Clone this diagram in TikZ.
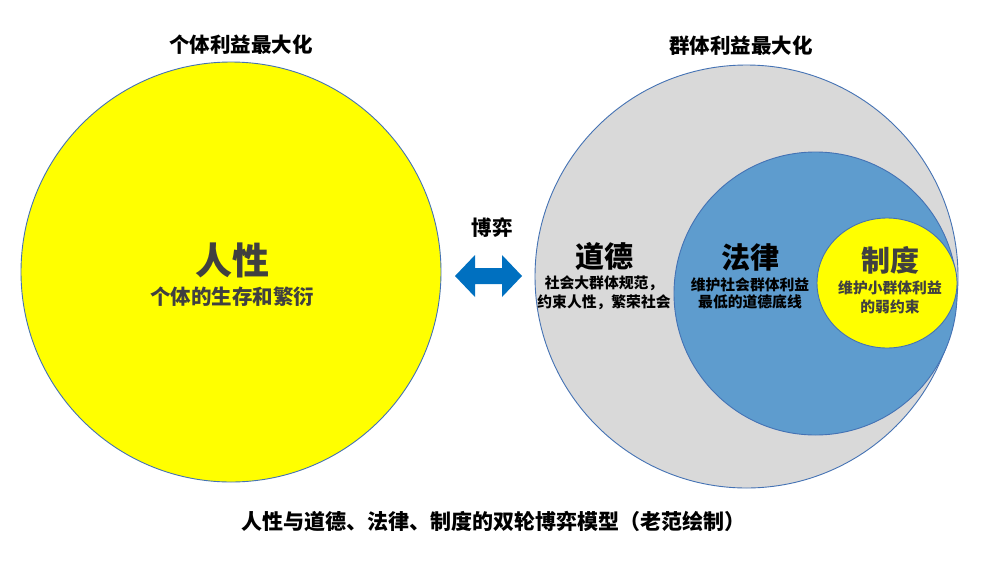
\documentclass[tikz,border=0pt]{standalone}
\usepackage{fontspec}
\setmainfont{Noto Sans CJK SC}
\definecolor{ring}{RGB}{68,114,180}
\definecolor{yel}{RGB}{255,255,0}
\definecolor{gry}{RGB}{217,217,217}
\definecolor{blu}{RGB}{94,156,206}
\definecolor{arr}{RGB}{0,112,192}
\definecolor{dk}{RGB}{64,64,64}
\tikzset{
  disc/.style={draw=ring, line width=0.9pt},
  lbl/.style={font=\bfseries, inner sep=0pt, anchor=center},
}
\begin{document}
\begin{tikzpicture}[x=1pt,y=-1pt]
\useasboundingbox (0,0) rectangle (1001,563);
\fill[white] (0,0) rectangle (1001,563);
% circles
\draw[disc, fill=yel] (231,272) circle (210);
\draw[disc, fill=gry] (746.5,276.5) circle (211.5);
\draw[disc, fill=blu] (815.5,293.5) circle (141.5);
\draw[disc, fill=yel] (887,283) ellipse (70 and 65);
% titles
\node[lbl, font=\bfseries\fontsize{20.5}{22}\selectfont] (t1) at (241,45) {个体利益最大化};
\node[lbl, font=\bfseries\fontsize{20.5}{22}\selectfont] (t2) at (741,46) {群体利益最大化};
% left
\node[lbl, text=dk, font=\bfseries\fontsize{37}{40}\selectfont] (rx) at (232,260) {人性};
\node[lbl, text=dk, font=\bfseries\fontsize{20.5}{22}\selectfont] (rxs) at (232,297) {个体的生存和繁衍};
% game
\node[lbl, font=\bfseries\fontsize{20.5}{22}\selectfont] (by) at (492,228) {博弈};
\fill[arr] (455,276) -- (475,255) -- (475,268) -- (502,268) -- (502,255) -- (522,276)
  -- (502,297) -- (502,284) -- (475,284) -- (475,297) -- cycle;
% daode
\node[lbl, font=\bfseries\fontsize{29}{31}\selectfont] (dd) at (604,257) {道德};
\node[lbl, font=\bfseries\fontsize{14.8}{16}\selectfont] (dd1) at (604,283) {社会大群体规范，};
\node[lbl, font=\bfseries\fontsize{14.8}{16}\selectfont] (dd2) at (604,302) {约束人性，繁荣社会};
% falv
\node[lbl, font=\bfseries\fontsize{29}{31}\selectfont] (fl) at (750,257) {法律};
\node[lbl, font=\bfseries\fontsize{14.8}{16}\selectfont] (fl1) at (750,285) {维护社会群体利益};
\node[lbl, font=\bfseries\fontsize{14.8}{16}\selectfont] (fl2) at (750,302) {最低的道德底线};
% zhidu
\node[lbl, text=dk, font=\bfseries\fontsize{29}{31}\selectfont] (zd) at (890,260) {制度};
\node[lbl, text=dk, font=\bfseries\fontsize{14.8}{16}\selectfont] (zd1) at (890,288) {维护小群体利益};
\node[lbl, text=dk, font=\bfseries\fontsize{14.8}{16}\selectfont] (zd2) at (890,307) {的弱约束};
% bottom
\node[lbl, font=\bfseries\fontsize{21}{23}\selectfont] (bt) at (493,521) {人性与道德、法律、制度的双轮博弈模型（老范绘制）};
\end{tikzpicture}
\end{document}
